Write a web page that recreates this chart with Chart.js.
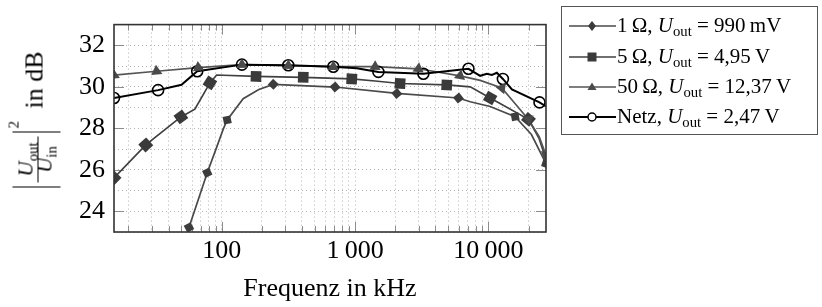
<!DOCTYPE html>
<html>
<head>
<meta charset="utf-8">
<script src="https://cdn.jsdelivr.net/npm/chart.js@4.4.1/dist/chart.umd.min.js"></script>
<style>
  body { margin: 0; background: #fff; }
  #wrap { position: relative; width: 822px; height: 307px; font-family: "Liberation Serif", serif; color: #000; }
  #chart { position: absolute; left: 0; top: 0; }
  #legend { position: absolute; left: 561px; top: 6px; width: 257px; height: 129px; box-sizing: border-box; border: 1.3px solid #555; }
  .lg-sym { position: absolute; left: 567px; width: 50px; height: 20px; }
  .lg-text { position: absolute; left: 617px; font-size: 21px; line-height: 21px; white-space: nowrap; }
  .it { font-style: italic; }
  .sub { font-size: 0.7em; position: relative; top: 0.28em; font-style: normal; }
  #ytitle { position: absolute; left: -34.5px; top: 93.5px; width: 141px; height: 48px; transform: rotate(-90deg); }
  #ytitle span, #ytitle div { position: absolute; white-space: nowrap; }
</style>
</head>
<body>
<div id="wrap">
  <canvas id="chart" width="822" height="307"></canvas>

  <div id="ytitle">
    <div style="left:1px;top:0;width:1.3px;height:48px;background:#000"></div>
    <div style="left:56px;top:0;width:1.3px;height:48px;background:#000"></div>
    <div style="left:6px;top:25px;width:46px;height:1px;background:#000"></div>
    <div style="left:6px;top:3.4px;width:46px;text-align:center;font-size:21px;line-height:21px"><span style="position:static" class="it">U</span><span style="position:relative" class="sub">out</span></div>
    <div style="left:6px;top:22.4px;width:46px;text-align:center;font-size:21px;line-height:21px"><span style="position:static" class="it">U</span><span style="position:relative" class="sub">in</span></div>
    <span style="left:60px;top:-5.6px;font-size:15px;line-height:15px">2</span>
    <span style="left:80px;top:9.2px;font-size:26px;line-height:26px">in dB</span>
  </div>

  <div id="legend"></div>
  <svg class="lg-sym" style="top:15.5px" viewBox="0 0 50 20"><line x1="2" y1="10" x2="49" y2="10" stroke="#4a4a4a" stroke-width="1.7"/><polygon points="25,5 29,10 25,15 21,10" fill="#3c3c3c"/></svg>
  <svg class="lg-sym" style="top:46.5px" viewBox="0 0 50 20"><line x1="2" y1="10" x2="49" y2="10" stroke="#404040" stroke-width="1.7"/><rect x="20.5" y="5.5" width="9" height="9" fill="#3a3a3a"/></svg>
  <svg class="lg-sym" style="top:77px" viewBox="0 0 50 20"><line x1="2" y1="10" x2="49" y2="10" stroke="#555" stroke-width="1.7"/><polygon points="25,5.5 29.5,13 20.5,13" fill="#4a4a4a"/></svg>
  <svg class="lg-sym" style="top:107px" viewBox="0 0 50 20"><line x1="2" y1="10" x2="49" y2="10" stroke="#000" stroke-width="1.9"/><circle cx="25" cy="10" r="4" fill="#fff" stroke="#000" stroke-width="1.5"/></svg>
  <div class="lg-text" style="top:14.5px">1&#8201;&#937;, <span class="it">U</span><span class="sub">out</span> = 990&#8201;mV</div>
  <div class="lg-text" style="top:45.5px">5&#8201;&#937;, <span class="it">U</span><span class="sub">out</span> = 4,95&#8201;V</div>
  <div class="lg-text" style="top:76px">50&#8201;&#937;, <span class="it">U</span><span class="sub">out</span> = 12,37&#8201;V</div>
  <div class="lg-text" style="top:106px">Netz, <span class="it">U</span><span class="sub">out</span> = 2,47&#8201;V</div>
</div>

<script>
// axis range (kHz / dB)
const xMin = 15.6;
const xMax = 27000;
const yMin = 23;
const yMax = 33;

const xTickValues = [100, 1000, 10000];
const xTickLabels = ['100', '1\u2009000', '10\u2009000'];
const yTickValues = [24, 26, 28, 30, 32];

// 1 Ohm, Uout = 990 mV
const r1Freq = [54, 56.9, 78, 91.7, 102.8, 110, 145, 190, 244, 708, 2055, 5960, 7300, 10300, 15850, 21000, 27000];
const r1Gain = [22.4, 23.22, 25.86, 27.08, 27.96, 28.4, 29.43, 29.87, 30.12, 29.99, 29.68, 29.46, 29.28, 29.05, 28.56, 27.7, 26.3];
const r1MarkFreq = [56.9, 78, 110, 244, 708, 2055, 5960, 15850, 27000];
const r1MarkGain = [23.22, 25.86, 28.4, 30.12, 29.99, 29.68, 29.46, 28.56, 26.3];

// 5 Ohm, Uout = 4,95 V
const r5Freq = [15.6, 27, 49.5, 63, 81.7, 91.7, 181, 409, 945, 1413, 2175, 4870, 7300, 10300, 19950, 24000, 27000];
const r5Gain = [25.61, 27.2, 28.55, 28.92, 30.19, 30.57, 30.5, 30.46, 30.38, 30.28, 30.16, 30.09, 30.0, 29.46, 28.43, 27.5, 26.5];
const r5MarkFreq = [15.6, 27, 49.5, 81.7, 181, 409, 945, 2175, 4870, 10300, 19950];
const r5MarkGain = [25.61, 27.2, 28.55, 30.19, 30.5, 30.46, 30.38, 30.16, 30.09, 29.46, 28.43];

// 50 Ohm, Uout = 12,37 V
const r50Freq = [15.6, 32.5, 66.8, 142, 316, 687, 1413, 2985, 6130, 8670, 12600, 19950, 24000, 27000];
const r50Gain = [30.56, 30.75, 30.93, 31.07, 31.02, 30.97, 30.97, 30.87, 30.53, 30.31, 29.94, 28.43, 27.6, 26.7];
const r50MarkFreq = [15.6, 32.5, 66.8, 142, 316, 687, 1413, 2985, 6130, 12600, 19950, 27000];
const r50MarkGain = [30.56, 30.75, 30.93, 31.07, 31.02, 30.97, 30.97, 30.87, 30.53, 29.94, 28.43, 26.7];

// Netz, Uout = 2,47 V
const netzFreq = [15.6, 33.4, 50, 65.6, 142, 316, 687, 1030, 1496, 3252, 7080, 8670, 9725, 10610, 11560, 12830, 14990, 24140, 27000];
const netzGain = [29.46, 29.84, 30.1, 30.75, 31.07, 31.04, 30.97, 30.9, 30.72, 30.63, 30.87, 30.53, 30.63, 30.57, 30.68, 30.38, 29.87, 29.25, 29.06];
const netzMarkFreq = [15.6, 33.4, 65.6, 142, 316, 687, 1496, 3252, 7080, 12830, 24140];
const netzMarkGain = [29.46, 29.84, 30.75, 31.07, 31.04, 30.97, 30.72, 30.63, 30.87, 30.38, 29.25];

function pts(fs, gs) {
    return fs.map((f, i) => ({ x: f, y: gs[i] }));
}

// marks follow the direction of the curve (like decorated marks in pgfplots)
function markRotation(lineF, lineG) {
    return ctx => {
        if (!ctx.raw) return 0;
        const xs = ctx.chart.scales.x;
        const ys = ctx.chart.scales.y;
        const f = ctx.raw.x;
        const n = lineF.length;
        let i = lineF.findIndex(v => v >= f - 1e-9);
        let a, b;
        if (i < 0) { a = n - 2; b = n - 1; }
        else if (Math.abs(lineF[i] - f) < 1e-9) { a = Math.max(i - 1, 0); b = Math.min(i + 1, n - 1); }
        else { a = Math.max(i - 1, 0); b = i; }
        const dx = xs.getPixelForValue(lineF[b]) - xs.getPixelForValue(lineF[a]);
        const dy = ys.getPixelForValue(lineG[b]) - ys.getPixelForValue(lineG[a]);
        return Math.atan2(dy, dx) * 180 / Math.PI;
    };
}

function lineSet(fs, gs, color, width, order) {
    return {
        data: pts(fs, gs),
        borderColor: color,
        borderWidth: width,
        pointRadius: 0,
        tension: 0,
        order: order
    };
}

function markSet(fs, gs, lineF, lineG, style, radius, color, fill, order) {
    return {
        data: pts(fs, gs),
        showLine: false,
        pointStyle: style,
        pointRadius: radius,
        pointBackgroundColor: fill,
        pointBorderColor: color,
        pointBorderWidth: style === 'circle' ? 1.6 : 0,
        pointRotation: markRotation(lineF, lineG),
        order: order
    };
}

const xGridValues = [];
[10, 100, 1000, 10000].forEach(d => {
    for (let m = 1; m <= 9; m++) {
        const v = m * d;
        if (v >= xMin && v <= xMax) xGridValues.push(v);
    }
});
const yGridValues = [];
for (let v = yMin; v <= yMax; v++) yGridValues.push(v);

const frameAndTicks = {
    id: 'frameAndTicks',
    beforeDatasetsDraw(chart) {
        const { ctx, chartArea: a, scales: { x, y } } = chart;
        ctx.save();
        ctx.strokeStyle = '#8c8c8c';
        ctx.lineWidth = 1;
        ctx.beginPath();
        xGridValues.forEach(v => {
            const px = Math.round(x.getPixelForValue(v)) + 0.5;
            const len = xTickValues.includes(v) ? 10 : 6;
            ctx.moveTo(px, a.bottom); ctx.lineTo(px, a.bottom - len);
            ctx.moveTo(px, a.top); ctx.lineTo(px, a.top + len);
        });
        yTickValues.forEach(v => {
            const py = Math.round(y.getPixelForValue(v)) + 0.5;
            ctx.moveTo(a.left, py); ctx.lineTo(a.left + 10, py);
            ctx.moveTo(a.right, py); ctx.lineTo(a.right - 10, py);
        });
        ctx.stroke();
        ctx.restore();
    },
    afterDatasetsDraw(chart) {
        const { ctx, chartArea: a } = chart;
        ctx.save();
        ctx.strokeStyle = '#333';
        ctx.lineWidth = 1.6;
        ctx.strokeRect(a.left, a.top, a.right - a.left, a.bottom - a.top);
        ctx.restore();
    }
};

Chart.defaults.font.family = '"Liberation Serif", serif';
Chart.defaults.color = '#000';

new Chart(document.getElementById('chart'), {
    type: 'line',
    data: {
        datasets: [
            lineSet(r1Freq, r1Gain, '#4a4a4a', 1.7, 13),
            lineSet(r5Freq, r5Gain, '#404040', 1.7, 12),
            lineSet(r50Freq, r50Gain, '#555555', 1.7, 11),
            lineSet(netzFreq, netzGain, '#000000', 2, 10),
            markSet(netzMarkFreq, netzMarkGain, netzFreq, netzGain, 'circle', 5.5, '#000', 'rgba(255,255,255,0)', 4),
            markSet(r1MarkFreq, r1MarkGain, r1Freq, r1Gain, 'rectRot', 5.5, '#3c3c3c', '#3c3c3c', 3),
            markSet(r5MarkFreq, r5MarkGain, r5Freq, r5Gain, 'rect', 7.5, '#3a3a3a', '#3a3a3a', 2),
            markSet(r50MarkFreq, r50MarkGain, r50Freq, r50Gain, 'triangle', 6.5, '#4a4a4a', '#4a4a4a', 1)
        ]
    },
    options: {
        responsive: false,
        animation: false,
        events: [],
        layout: { padding: { left: 0, right: 276, top: 5, bottom: 0 } },
        plugins: {
            legend: { display: false },
            tooltip: { enabled: false }
        },
        scales: {
            x: {
                type: 'logarithmic',
                min: xMin,
                max: xMax,
                afterBuildTicks: s => { s.ticks = xGridValues.map(v => ({ value: v })); },
                afterFit: s => { s.height = 75; },
                ticks: {
                    autoSkip: false,
                    maxRotation: 0,
                    padding: 4,
                    font: { size: 26 },
                    callback: v => {
                        const i = xTickValues.indexOf(v);
                        return i >= 0 ? xTickLabels[i] : '';
                    }
                },
                grid: { color: '#b4b4b4', lineWidth: 1, drawTicks: false },
                border: { display: false, dash: [1, 3] },
                title: { display: true, text: 'Frequenz in kHz', font: { size: 26 }, padding: { top: 0, bottom: 2 } }
            },
            y: {
                min: yMin,
                max: yMax,
                afterBuildTicks: s => { s.ticks = yGridValues.map(v => ({ value: v })); },
                afterFit: s => { s.width = 114; },
                ticks: {
                    autoSkip: false,
                    padding: 9,
                    font: { size: 26 },
                    callback: v => yTickValues.includes(v) ? String(v) : ''
                },
                grid: { color: '#b4b4b4', lineWidth: 1, drawTicks: false },
                border: { display: false, dash: [1, 3] }
            }
        }
    },
    plugins: [frameAndTicks]
});
</script>
</body>
</html>
